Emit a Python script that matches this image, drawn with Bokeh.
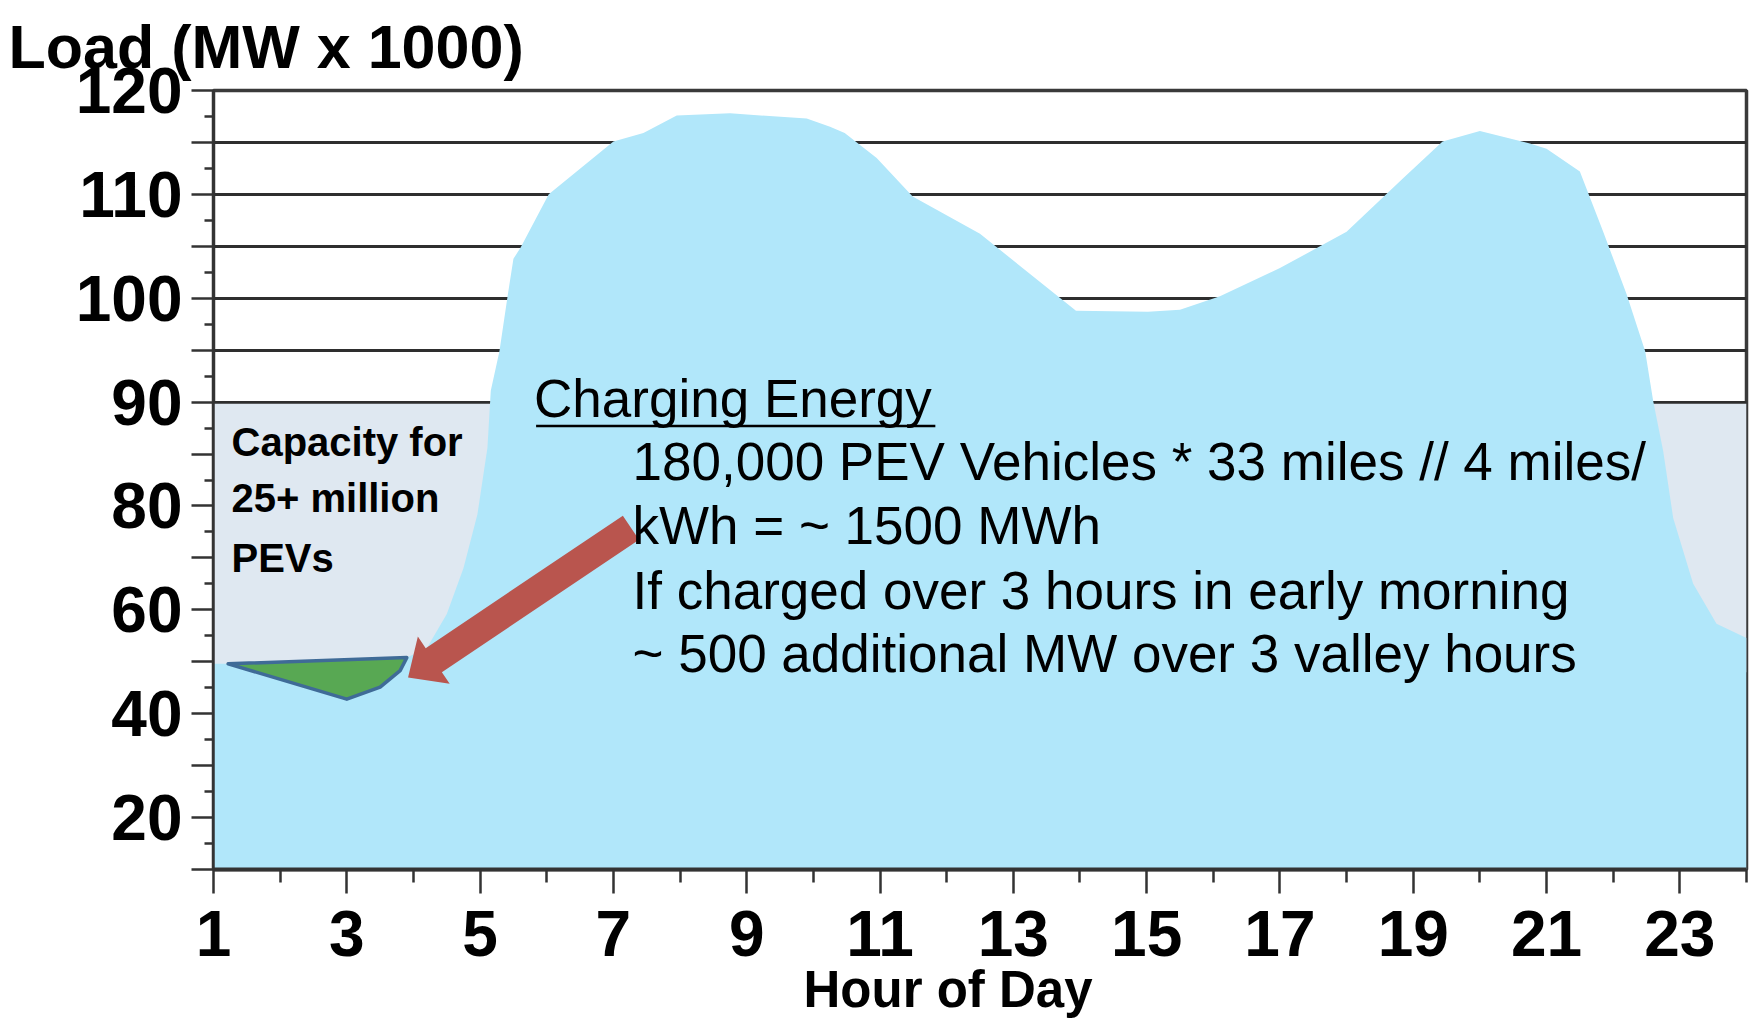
import math
import numpy as np
from bokeh.plotting import figure
from bokeh.models import Range1d, FixedTicker, Title
from bokeh.core.properties import value
from bokeh.embed import file_html
from bokeh.resources import INLINE

# ---------------- data ----------------
# hourly system load, MW x 1000 (outline of the blue area)
load_hours = [1.0, 1.22, 3.0, 3.5, 3.8, 3.9, 4.2, 4.5, 4.75, 4.96, 5.11, 5.16,
              5.29, 5.41, 5.5, 5.61, 6.03, 7.0, 7.45, 7.95, 8.75, 9.9, 10.25,
              10.47, 10.95, 11.49, 12.5, 13.94, 15.02, 15.5, 16.1, 17.0, 18.0,
              18.84, 19.44, 20.0, 20.75, 21.0, 21.5, 21.85, 22.2, 22.48, 22.6,
              22.75, 22.9, 23.2, 23.55, 24.0]
load_mw_k = [49.6, 49.6, 42.8, 45.1, 48.3, 50.8, 52.6, 59.2, 68.0, 78.4, 85.6, 91.1,
             94.9, 100.1, 103.8, 104.9, 110.0, 115.1, 115.9, 117.6, 117.8, 117.3, 116.5,
             115.9, 113.5, 109.8, 106.2, 98.8, 98.7, 98.9, 100.2, 102.9, 106.4,
             111.5, 115.1, 116.1, 114.9, 114.4, 112.2, 106.4, 100.4, 94.9, 90.1,
             85.3, 77.7, 65.0, 57.3, 54.6]

# valley filled by PEV charging (green patch)
pev_hours = [1.22, 3.9, 3.8, 3.5, 3.0]
pev_mw_k = [49.6, 50.8, 48.3, 45.1, 42.8]

capacity_top = 90      # top of the "capacity for PEVs" band
capacity_bottom = 48

x_tick_hours = list(range(1, 24, 2))
x_minor_hours = list(range(2, 25, 2))
y_tick_values = [20, 40, 60, 80, 90, 100, 110, 120]

title_text = "Load (MW x 1000)"
x_label_text = "Hour of Day"
capacity_lines = ["Capacity for", "25+ million", "PEVs"]
heading_text = "Charging Energy"
body_lines = ["180,000 PEV Vehicles * 33 miles // 4 miles/",
              "kWh = ~ 1500 MWh",
              "If charged over 3 hours in early morning",
              "~ 500 additional MW over 3 valley hours"]

# ---------------- broken axis: below 80 the scale is halved ----------------
BREAK = 80.0
def ypos(v):
    v = np.asarray(v, dtype=float)
    return np.where(v >= BREAK, v, BREAK - (BREAK - v) / 2.0)

X0, X1 = 1, 24
Y0, Y1 = 45, 120

W, H = 1750, 1026
ML, MR, MT, MB = 213, 4, 89, 157
FW, FH = W - ML - MR, H - MT - MB
PX_X = FW / (X1 - X0)
PX_Y = FH / (Y1 - Y0)

def bfix(fs):
    # bokeh draws an "alphabetic" text baseline about 0.36 em below y
    return 0.36 * fs / PX_Y

FONT = "Liberation Sans"
INK = "#333333"

p = figure(width=W, height=H, x_range=Range1d(X0, X1), y_range=Range1d(Y0, Y1),
           output_backend="svg", toolbar_location=None,
           min_border_left=ML, min_border_right=MR, min_border_top=MT,
           min_border_bottom=MB)
p.background_fill_color = "white"
p.border_fill_color = "white"
p.outline_line_color = "#3a3a3a"
p.outline_line_width = 3.5

# title
p.title = Title(text=title_text, text_font=FONT, text_font_style="bold",
                text_font_size="61px", text_color="black", align="left",
                offset=-205, standoff=20)

# grid
p.xgrid.visible = False
p.ygrid.ticker = FixedTicker(ticks=list(range(90, 120, 5)))
p.ygrid.grid_line_color = "#2e2e2e"
p.ygrid.grid_line_width = 3
p.ygrid.grid_line_alpha = 1.0

# y axis
y_major = [float(t) for t in np.arange(Y0, Y1 + 0.1, 5)]
y_minor = [float(t) for t in np.arange(Y0 + 2.5, Y1, 5)]
overrides = {t: "" for t in y_major}
for v in y_tick_values:
    overrides[float(ypos(v))] = str(v)
yax = p.yaxis[0]
yax.ticker = FixedTicker(ticks=y_major, minor_ticks=y_minor)
yax.major_label_overrides = overrides
yax.major_label_text_font = FONT
yax.major_label_text_font_style = "bold"
yax.major_label_text_font_size = "64px"
yax.major_label_text_color = "black"
yax.major_label_standoff = 9
yax.major_tick_out = 22
yax.major_tick_in = 0
yax.minor_tick_out = 9
yax.minor_tick_in = 0
yax.axis_line_width = 2.5
yax.axis_line_color = INK
yax.major_tick_line_width = 2.5
yax.major_tick_line_color = INK
yax.minor_tick_line_width = 2.5
yax.minor_tick_line_color = INK

# x axis
xax = p.xaxis[0]
xax.ticker = FixedTicker(ticks=x_tick_hours, minor_ticks=x_minor_hours)
xax.major_label_text_font = FONT
xax.major_label_text_font_style = "bold"
xax.major_label_text_font_size = "64px"
xax.major_label_text_color = "black"
xax.major_label_standoff = 17
xax.major_tick_out = 24
xax.major_tick_in = 0
xax.minor_tick_out = 13
xax.minor_tick_in = 0
xax.axis_line_width = 4
xax.axis_line_color = INK
xax.major_tick_line_width = 2.5
xax.major_tick_line_color = INK
xax.minor_tick_line_width = 2.5
xax.minor_tick_line_color = INK

# x-axis caption as a title below the axis (a little left of centre, as in the original)
p.add_layout(Title(text=x_label_text, text_font=FONT, text_font_style="bold",
                   text_font_size="51px", text_color="black", align="left",
                   offset=590, standoff=0), "below")

# capacity band (unused generation capacity)
p.quad(left=[X0], right=[X1], bottom=[float(ypos(capacity_bottom))],
       top=[float(ypos(capacity_top)) - 0.15],
       fill_color="#dfe8f1", line_color=None)

# load area
p.varea(x=load_hours, y1=Y0, y2=list(ypos(load_mw_k)), fill_color="#b1e7fa")

# PEV charging valley fill
p.patch(pev_hours, list(ypos(pev_mw_k)), fill_color="#58a853",
        line_color="#3f6b97", line_width=3.5, line_join="round")

# arrow (tail / tip in hour, axis-position units)
def arrow_polygon(tail, tip, shaft_w, head_w, head_len):
    tx, ty = tail[0] * PX_X, tail[1] * PX_Y
    hx, hy = tip[0] * PX_X, tip[1] * PX_Y
    dx, dy = hx - tx, hy - ty
    L = math.hypot(dx, dy)
    ux, uy = dx / L, dy / L
    nx, ny = -uy, ux
    bx, by = hx - ux * head_len, hy - uy * head_len
    s, h = shaft_w / 2, head_w / 2
    pts = [(tx + nx * s, ty + ny * s), (bx + nx * s, by + ny * s),
           (bx + nx * h, by + ny * h), (hx, hy),
           (bx - nx * h, by - ny * h), (bx - nx * s, by - ny * s),
           (tx - nx * s, ty - ny * s)]
    return [q[0] / PX_X for q in pts], [q[1] / PX_Y for q in pts]

ax_, ay_ = arrow_polygon((7.263, 77.91), (3.919, 63.49), 29, 57, 31)
p.patch(ax_, ay_, fill_color="#b9554e", line_color=None)

# texts inside the plot
fs_cap, fs_body = 40, 53
p.text(x=[1.27] * 3, y=[v + bfix(fs_cap) for v in [84.81, 79.36, 73.59]],
       text=capacity_lines, text_font=value(FONT), text_font_style="bold",
       text_font_size=f"{fs_cap}px", text_color="black",
       text_baseline="alphabetic", text_align="left")
p.text(x=[5.81], y=[88.49 + bfix(fs_body)], text=[heading_text],
       text_font=value(FONT), text_font_size=f"{fs_body}px", text_color="black",
       text_baseline="alphabetic", text_align="left")
p.line(x=[5.84, 11.83], y=[87.69, 87.69], line_color="black", line_width=2.5)
p.text(x=[7.287] * 4, y=[v + bfix(fs_body) for v in [82.40, 76.32, 70.07, 64.0]],
       text=body_lines, text_font=value(FONT), text_font_size=f"{fs_body}px",
       text_color="black", text_baseline="alphabetic", text_align="left")

open("out.html", "w").write(file_html(p, INLINE))
